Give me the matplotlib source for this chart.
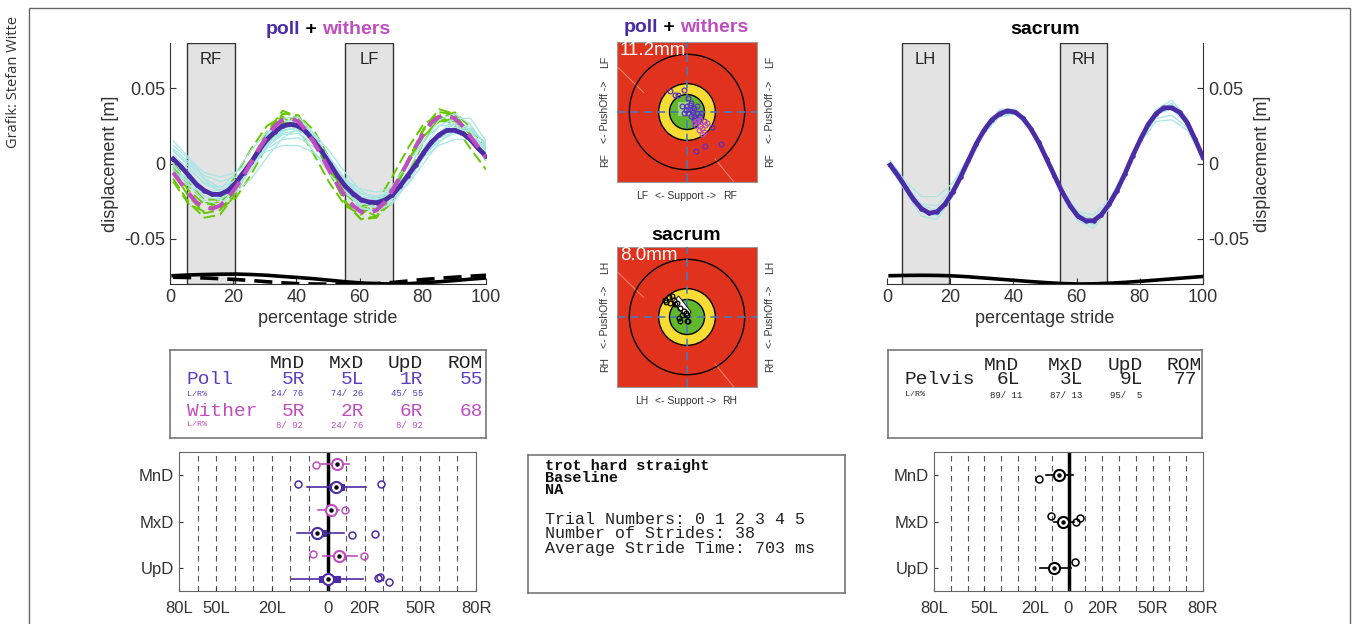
import numpy as np
import matplotlib
matplotlib.use('Agg')
import matplotlib.pyplot as plt
from matplotlib.patches import Rectangle, Circle, Polygon

W, H = 1359, 624
plt.rcParams['font.family'] = ['Liberation Sans', 'DejaVu Sans']
MONO = 'Liberation Mono'

# ---------------- data: vertical displacement curves (m) ----------------
# mean curves every 2.5 % of stride, single strides every 5 %
poll_mean = [0.003, -0.002, -0.008, -0.014, -0.018, -0.0205, -0.0205, -0.018, -0.013, -0.006,
             0.001, 0.009, 0.016, 0.021, 0.025, 0.026, 0.025, 0.021, 0.015, 0.008,
             0.000, -0.008, -0.015, -0.020, -0.024, -0.0255, -0.026, -0.0245, -0.021, -0.015,
             -0.008, -0.001, 0.007, 0.014, 0.019, 0.022, 0.022, 0.020, 0.016, 0.010, 0.005]
withers_mean = [-0.006, -0.013, -0.020, -0.026, -0.029, -0.030, -0.028, -0.023, -0.016, -0.008,
                0.001, 0.010, 0.018, 0.025, 0.029, 0.030, 0.028, 0.022, 0.014, 0.005,
                -0.005, -0.014, -0.022, -0.028, -0.032, -0.033, -0.031, -0.026, -0.018, -0.009,
                0.001, 0.011, 0.020, 0.027, 0.031, 0.032, 0.030, 0.025, 0.018, 0.011, 0.004]
sacrum_mean = [-0.001, -0.008, -0.016, -0.024, -0.030, -0.033, -0.032, -0.027, -0.019, -0.009,
               0.002, 0.013, 0.022, 0.029, 0.033, 0.035, 0.034, 0.030, 0.023, 0.014,
               0.003, -0.008, -0.019, -0.028, -0.035, -0.038, -0.038, -0.034, -0.027, -0.018,
               -0.007, 0.005, 0.016, 0.026, 0.033, 0.037, 0.037, 0.034, 0.027, 0.016, 0.004]

poll_strides = [
    [0.012, 0.003, -0.006, -0.009, -0.006, 0.002, 0.008, 0.012, 0.012, 0.007, -0.002, -0.011, -0.017, -0.019, -0.016, -0.007, 0.004, 0.012, 0.016, 0.016, 0.012],
    [0.000, -0.014, -0.025, -0.027, -0.018, 0.000, 0.019, 0.030, 0.031, 0.020, 0.002, -0.017, -0.029, -0.032, -0.026, -0.010, 0.010, 0.025, 0.030, 0.022, 0.008],
    [0.008, 0.000, -0.011, -0.019, -0.019, -0.010, 0.004, 0.017, 0.023, 0.020, 0.008, -0.006, -0.018, -0.024, -0.023, -0.014, 0.000, 0.014, 0.022, 0.022, 0.014],
    [-0.004, -0.015, -0.020, -0.017, -0.006, 0.009, 0.021, 0.026, 0.021, 0.008, -0.007, -0.020, -0.027, -0.025, -0.015, 0.000, 0.015, 0.025, 0.026, 0.016, 0.002],
    [0.006, -0.004, -0.013, -0.016, -0.011, 0.000, 0.012, 0.019, 0.020, 0.013, 0.001, -0.011, -0.020, -0.022, -0.018, -0.007, 0.006, 0.017, 0.021, 0.017, 0.009],
    [0.015, 0.004, -0.010, -0.016, -0.012, 0.000, 0.013, 0.022, 0.024, 0.017, 0.004, -0.010, -0.020, -0.023, -0.019, -0.008, 0.006, 0.020, 0.030, 0.030, 0.015],
    [-0.002, -0.011, -0.022, -0.024, -0.017, -0.002, 0.013, 0.023, 0.027, 0.019, 0.003, -0.013, -0.025, -0.030, -0.027, -0.013, 0.004, 0.020, 0.027, 0.024, 0.012],
    [0.004, -0.006, -0.017, -0.022, -0.016, -0.002, 0.013, 0.022, 0.024, 0.016, 0.000, -0.016, -0.026, -0.029, -0.024, -0.011, 0.004, 0.017, 0.024, 0.021, 0.010],
    [0.010, 0.001, -0.008, -0.012, -0.009, 0.000, 0.010, 0.016, 0.017, 0.011, 0.000, -0.012, -0.020, -0.022, -0.018, -0.008, 0.005, 0.015, 0.020, 0.018, 0.011],
    [-0.005, -0.012, -0.020, -0.021, -0.013, 0.003, 0.018, 0.028, 0.029, 0.019, 0.001, -0.018, -0.030, -0.031, -0.022, -0.005, 0.014, 0.029, 0.033, 0.026, 0.011],
    [0.002, -0.009, -0.019, -0.023, -0.018, -0.004, 0.011, 0.021, 0.025, 0.018, 0.003, -0.014, -0.024, -0.027, -0.022, -0.009, 0.007, 0.020, 0.026, 0.022, 0.008],
    [0.009, -0.002, -0.014, -0.018, -0.013, -0.001, 0.011, 0.020, 0.022, 0.015, 0.002, -0.012, -0.022, -0.024, -0.020, -0.009, 0.005, 0.018, 0.024, 0.023, 0.013],
]
withers_strides = [
    [-0.010, -0.026, -0.036, -0.034, -0.020, 0.000, 0.020, 0.033, 0.032, 0.016, -0.006, -0.026, -0.037, -0.036, -0.021, 0.000, 0.022, 0.034, 0.033, 0.019, 0.002],
    [-0.002, -0.015, -0.024, -0.024, -0.013, 0.003, 0.018, 0.027, 0.026, 0.013, -0.004, -0.019, -0.028, -0.027, -0.016, 0.002, 0.018, 0.028, 0.028, 0.016, 0.006],
    [0.000, -0.012, -0.025, -0.030, -0.023, -0.007, 0.012, 0.027, 0.032, 0.022, 0.003, -0.016, -0.030, -0.035, -0.026, -0.007, 0.014, 0.030, 0.034, 0.024, 0.010],
    [-0.012, -0.027, -0.032, -0.024, -0.008, 0.010, 0.025, 0.031, 0.023, 0.006, -0.013, -0.028, -0.034, -0.026, -0.009, 0.010, 0.026, 0.032, 0.025, 0.010, -0.004],
    [-0.006, -0.022, -0.033, -0.031, -0.018, 0.002, 0.021, 0.035, 0.031, 0.015, -0.006, -0.025, -0.037, -0.035, -0.020, 0.002, 0.023, 0.036, 0.033, 0.019, 0.002],
    [-0.004, -0.018, -0.027, -0.026, -0.015, 0.002, 0.017, 0.027, 0.027, 0.014, -0.003, -0.020, -0.029, -0.030, -0.018, 0.000, 0.018, 0.029, 0.029, 0.017, 0.006],
]
sacrum_strides = [
    [0.002, -0.012, -0.022, -0.022, -0.013, 0.004, 0.022, 0.032, 0.033, 0.022, 0.003, -0.018, -0.032, -0.034, -0.024, -0.005, 0.016, 0.030, 0.032, 0.024, 0.006],
    [-0.003, -0.019, -0.035, -0.037, -0.022, 0.000, 0.022, 0.036, 0.036, 0.024, 0.002, -0.021, -0.038, -0.043, -0.030, -0.008, 0.017, 0.036, 0.042, 0.030, 0.003],
    [0.000, -0.014, -0.028, -0.031, -0.020, 0.000, 0.020, 0.031, 0.033, 0.023, 0.004, -0.017, -0.033, -0.037, -0.027, -0.008, 0.014, 0.028, 0.029, 0.022, 0.003],
    [-0.002, -0.018, -0.032, -0.034, -0.020, 0.003, 0.024, 0.035, 0.035, 0.023, 0.002, -0.020, -0.036, -0.040, -0.028, -0.007, 0.017, 0.035, 0.040, 0.029, 0.002],
    [0.000, -0.015, -0.027, -0.028, -0.016, 0.003, 0.021, 0.032, 0.034, 0.024, 0.005, -0.017, -0.034, -0.038, -0.027, -0.006, 0.017, 0.033, 0.036, 0.026, 0.006],
    [-0.001, -0.017, -0.031, -0.035, -0.022, -0.001, 0.020, 0.033, 0.034, 0.022, 0.001, -0.021, -0.037, -0.041, -0.029, -0.009, 0.015, 0.034, 0.039, 0.028, 0.003],
]
# black traces along the bottom of the gait plots
fore_trace_solid = [-0.0745, -0.0740, -0.0737, -0.0735, -0.0734, -0.0737, -0.0742, -0.0750, -0.0757, -0.0765, -0.0775,
                    -0.0785, -0.0793, -0.0798, -0.0800, -0.0798, -0.0792, -0.0785, -0.0777, -0.0768, -0.0760]
fore_trace_dashed = [-0.0755, -0.0757, -0.0760, -0.0765, -0.0770, -0.0777, -0.0785, -0.0792, -0.0798, -0.0800, -0.0801,
                     -0.0801, -0.0800, -0.0797, -0.0790, -0.0780, -0.0770, -0.0762, -0.0755, -0.0748, -0.0742]
hind_trace = [-0.0745, -0.0743, -0.0742, -0.0743, -0.0746, -0.0752, -0.0760, -0.0768, -0.0776, -0.0784, -0.0791,
              -0.0797, -0.0800, -0.0799, -0.0795, -0.0789, -0.0782, -0.0774, -0.0766, -0.0758, -0.0750]

fore_stance = [(5.5, 20.5, 'RF'), (55.5, 70.5, 'LF')]
hind_stance = [(4.6, 19.6, 'LH'), (54.6, 69.6, 'RH')]

# ---------------- data: target plots (normalised to plot half-width) ----------------
poll_pts_x = [-0.25, -0.17, -0.13, -0.04, 0.02, 0.05, 0.10, 0.14, 0.19, 0.24, 0.07, 0.00, 0.05, 0.10, 0.02,
              -0.02, 0.12, 0.36, 0.13, 0.26, 0.49, -0.05, 0.14, -0.07, 0.04, 0.10, 0.17, 0.08, 0.12, 0.20]
poll_pts_y = [0.30, 0.25, 0.25, 0.32, 0.20, 0.13, 0.06, -0.01, -0.06, -0.13, 0.03, 0.08, -0.06, -0.11, -0.01,
              0.03, -0.18, -0.22, -0.55, -0.48, -0.46, -0.01, 0.08, 0.08, 0.10, -0.05, -0.11, 0.00, -0.08, -0.02]
withers_pts_x = [0.19, 0.24, 0.17, 0.26, 0.14, 0.21, 0.29, 0.10, 0.19, 0.22]
withers_pts_y = [-0.20, -0.28, -0.25, -0.18, -0.13, -0.32, -0.16, -0.16, -0.11, -0.23]
sacrum_pts_x = [-0.31, -0.26, -0.21, -0.24, -0.30, -0.19, -0.14, -0.10, -0.05, 0.00, -0.12, -0.10, 0.00, 0.02,
                -0.17, -0.07, -0.02]
sacrum_pts_y = [0.25, 0.28, 0.30, 0.20, 0.21, 0.25, 0.20, 0.13, 0.08, 0.03, -0.01, -0.05, -0.05, -0.06,
                0.18, 0.03, 0.06]
sacrum_box = [(-0.20, 0.22), (-0.12, 0.30), (0.06, 0.07), (-0.02, -0.01)]
poll_scale = '11.2mm'
sacrum_scale = '8.0mm'

# ---------------- data: tables ----------------
table_cols = ['MnD', 'MxD', 'UpD', 'ROM']
poll_vals = ['5R', '5L', '1R', '55']
poll_lr = ['24/ 76', '74/ 26', '45/ 55']
wither_vals = ['5R', '2R', '6R', '68']
wither_lr = ['8/ 92', '24/ 76', '8/ 92']
pelvis_vals = ['6L', '3L', '9L', '77']
pelvis_lr = ['89/ 11', '87/ 13', '95/  5']
info_bold = ['trot hard straight', 'Baseline', 'NA']
info_lines = ['Trial Numbers: 0 1 2 3 4 5', 'Number of Strides: 38', 'Average Stride Time: 703 ms']

# ---------------- data: asymmetry summaries (% L/R), rows MnD, MxD, UpD ----------------
asym_labels = ['MnD', 'MxD', 'UpD']
poll_asym_mean = [4.5, -5.4, 0.5]
poll_asym_q1 = [0.9, -6.3, -4.5]
poll_asym_q3 = [9.0, -0.9, 6.7]
poll_asym_lo = [-11.2, -16.2, -19.3]
poll_asym_hi = [21.0, 9.0, 19.3]
poll_asym_out = [[-15.7, 29.0], [13.2, 25.4], [27.0, 28.5, 33.0]]
poll_asym_out_dy = [[0.05, 0.05], [-0.05, -0.02], [0.04, 0.06, -0.05]]
withers_asym_mean = [5.0, 1.8, 6.3]
withers_asym_q1 = [4.0, 1.0, 5.4]
withers_asym_q3 = [6.0, 2.5, 9.5]
withers_asym_lo = [-3.6, -4.9, -2.3]
withers_asym_hi = [11.4, 6.3, 15.7]
withers_asym_out = [[-6.0], [9.5], [-7.6, 19.6]]
withers_asym_out_dy = [[-0.04], [0.0], [0.04, 0.0]]
pelvis_asym_mean = [-5.9, -3.0, -8.9]
pelvis_asym_q1 = [-7.0, -4.0, -10.0]
pelvis_asym_q3 = [-4.5, -2.0, -7.5]
pelvis_asym_lo = [-13.3, -8.7, -17.2]
pelvis_asym_hi = [2.6, 3.0, 1.6]
pelvis_asym_out = [[-17.6], [-10.3, 4.6, 6.7], [3.6]]
pelvis_asym_out_dy = [[-0.09], [0.11, -0.01, 0.07], [0.12]]
left_xticks = [-80, -60, -30, 0, 20, 50, 80]
right_xticks = [-80, -50, -20, 0, 20, 50, 80]
xtick_labels = ['80L', '50L', '20L', '0', '20R', '50R', '80R']

# ---------------- colours ----------------
PURPLE = '#4b2ba6'
POLL_TXT = '#5a3fc0'
MAGENTA = '#c04ec0'
CYAN = '#a8e6e6'
GREEN = '#66c800'
RED = '#e0321c'
YELLOW = '#f8dc34'
TGREEN = '#62b82c'
BLUE = '#4a7ab8'
GREY_TXT = '#333333'

fig = plt.figure(figsize=(W / 100, H / 100), dpi=100)
renderer = fig.canvas.get_renderer()


def px(x, y):
    return x / W, 1 - y / H


def axes_px(x0, y0, x1, y1):
    return fig.add_axes([x0 / W, 1 - y1 / H, (x1 - x0) / W, (y1 - y0) / H])


def ftext(x, y, s, **kw):
    return fig.text(*px(x, y), s, **kw)


def multi_title(xc, yc, parts, size=14):
    texts, widths = [], []
    for s, c in parts:
        t = fig.text(0, 0, s, color=c, fontsize=size, fontweight='bold', va='center', ha='left')
        texts.append(t)
        widths.append(t.get_window_extent(renderer).width)
    x = xc - sum(widths) / 2
    for t, w in zip(texts, widths):
        t.set_position(px(x, yc))
        x += w


def gait_axes(ax, stance, right=False):
    for a, b, lab in stance:
        ax.add_patch(Rectangle((a, -0.08), b - a, 0.16, fc='#e3e3e3', ec='#333333', lw=1, zorder=0))
        ax.text((a + b) / 2, 0.069, lab, ha='center', va='center', fontsize=12, color='#222222')
    ax.set_xlim(0, 100)
    ax.set_ylim(-0.08, 0.08)
    ax.set_xticks(range(0, 101, 20))
    ax.set_yticks([-0.05, 0, 0.05])
    ax.set_yticklabels(['-0.05', '0', '0.05'])
    ax.tick_params(direction='in', length=4, labelsize=13, colors=GREY_TXT)
    ax.set_xlabel('percentage stride', fontsize=13, color=GREY_TXT, labelpad=3)
    ax.set_ylabel('displacement [m]', fontsize=13, color=GREY_TXT)
    ax.spines['top'].set_visible(False)
    if right:
        ax.spines['left'].set_visible(False)
        ax.yaxis.tick_right()
        ax.yaxis.set_label_position('right')
    else:
        ax.spines['right'].set_visible(False)
    for s in ax.spines.values():
        s.set_color('#333333')


def curves(ax, rows, **kw):
    for r in rows:
        ax.plot(np.linspace(1, 100, len(r)), r, **kw)


# ---------------- top gait plots ----------------
ax1 = axes_px(170, 43, 486, 284)
gait_axes(ax1, fore_stance)
curves(ax1, withers_strides, color=GREEN, lw=1.4, ls=(0, (6, 2.5)), zorder=2)
curves(ax1, poll_strides, color=CYAN, lw=0.9, zorder=3)
curves(ax1, [fore_trace_solid], color='k', lw=2.6, zorder=4)
curves(ax1, [fore_trace_dashed], color='k', lw=2.6, ls=(0, (5, 2.5)), zorder=4)
curves(ax1, [poll_mean], color=PURPLE, lw=3.4, marker='.', ms=4.5, zorder=5)
curves(ax1, [withers_mean], color=MAGENTA, lw=3, ls=(0, (4, 2.2)), zorder=6)
multi_title(328, 29, [('poll', PURPLE), (' + ', 'k'), ('withers', MAGENTA)])

ax2 = axes_px(887, 43, 1203, 284)
gait_axes(ax2, hind_stance, right=True)
curves(ax2, sacrum_strides, color=CYAN, lw=0.9, zorder=3)
curves(ax2, [hind_trace], color='k', lw=2.6, zorder=4)
curves(ax2, [sacrum_mean], color=PURPLE, lw=3.4, marker='.', ms=4.5, zorder=5)
multi_title(1045, 30, [('sacrum', 'k')])


# ---------------- targets ----------------
def target(ax, sets, scale, box=None, light=None):
    ax.set_facecolor(RED)
    ax.set_xlim(-1, 1)
    ax.set_ylim(-1, 1)
    # faint construction line, visible in the corners only
    ax.plot([-1, -0.62], [0.65, 0.28], color='#ee8a72', lw=0.7, zorder=1)
    ax.plot([0.40, 0.67], [-0.67, -1], color='#ee8a72', lw=0.7, zorder=1)
    ax.add_patch(Circle((0, 0), 0.824, fill=False, ec='k', lw=1, zorder=2))
    ax.add_patch(Circle((0, 0), 0.405, fc=YELLOW, ec='k', lw=1, zorder=2))
    ax.add_patch(Circle((0, 0), 0.25, fc=TGREEN, ec='k', lw=1, zorder=3))
    if light is not None:
        ax.add_patch(Rectangle(light[0], light[1], light[2], fc='#9fd67a', ec='none', zorder=3))
    ax.axhline(0, color=BLUE, lw=1.2, ls=(0, (5, 3)), zorder=4)
    ax.axvline(0, color=BLUE, lw=1.2, ls=(0, (5, 3)), zorder=4)
    if box is not None:
        ax.add_patch(Polygon(box, closed=True, fc='white', ec='k', lw=0.6, zorder=5))
    for xs, ys, c in sets:
        ax.plot(xs, ys, 'o', mfc='none', mec=c, ms=3.4, mew=0.9, zorder=6)
    ax.text(0.02, 1.0, scale, transform=ax.transAxes, color='white', fontsize=13.5,
            ha='left', va='top', zorder=7)
    ax.set_xticks([])
    ax.set_yticks([])
    for s in ax.spines.values():
        s.set_color('#999999')
        s.set_linewidth(0.8)


def target_labels(yc, a, b):
    for xx in (605, 770):
        ftext(xx, yc + 48, a, rotation=90, ha='center', va='center', fontsize=7.5, color=GREY_TXT)
        ftext(xx, yc, '<- PushOff ->', rotation=90, ha='center', va='center', fontsize=7.5, color=GREY_TXT)
        ftext(xx, yc - 50, b, rotation=90, ha='center', va='center', fontsize=7.5, color=GREY_TXT)
    ftext(642, yc + 84, b, ha='center', va='center', fontsize=7.5, color=GREY_TXT)
    ftext(686, yc + 84, '<- Support ->', ha='center', va='center', fontsize=7.5, color=GREY_TXT)
    ftext(730, yc + 84, a, ha='center', va='center', fontsize=7.5, color=GREY_TXT)


t1 = axes_px(617, 42, 757, 182)
target(t1, [(poll_pts_x, poll_pts_y, '#5a30c8'), (withers_pts_x, withers_pts_y, MAGENTA)], poll_scale,
       light=((-0.13, -0.06), 0.18, 0.2))
multi_title(686, 28, [('poll', PURPLE), (' + ', 'k'), ('withers', MAGENTA)])
target_labels(112, 'RF', 'LF')

t2 = axes_px(617, 247, 757, 387)
target(t2, [(sacrum_pts_x, sacrum_pts_y, 'k')], sacrum_scale, box=sacrum_box)
multi_title(686, 235, [('sacrum', 'k')])
target_labels(317, 'RH', 'LH')


# ---------------- tables ----------------
def box_axes(x0, y0, x1, y1):
    ax = axes_px(x0, y0, x1, y1)
    ax.set_xticks([])
    ax.set_yticks([])
    for s in ax.spines.values():
        s.set_color('#777777')
        s.set_linewidth(1.2)
    return ax


box_axes(170, 350, 486, 438)
for col, xe in zip(table_cols, [305, 364, 423, 483]):
    ftext(xe, 363, col, ha='right', va='center', family=MONO, fontsize=14, color='#222222')
for name, vals, lr, c, y in [('Poll', poll_vals, poll_lr, POLL_TXT, 380),
                             ('Wither', wither_vals, wither_lr, MAGENTA, 411)]:
    ftext(187, y, name, ha='left', va='center', family=MONO, fontsize=14, color=c)
    for v, xe in zip(vals, [305, 364, 423, 483]):
        ftext(xe, y, v, ha='right', va='center', family=MONO, fontsize=14, color=c)
    ftext(187, y + 14, 'L/R%', ha='left', va='center', family=MONO, fontsize=6, color=c)
    for v, xe in zip(lr, [303, 363, 423]):
        ftext(xe, y + 14, v, ha='right', va='center', family=MONO, fontsize=6.5, color=c)

box_axes(888, 350, 1202, 438)
for col, xe in zip(table_cols, [1019, 1083, 1143, 1202]):
    ftext(xe, 365, col, ha='right', va='center', family=MONO, fontsize=14, color='#222222')
ftext(905, 380, 'Pelvis', ha='left', va='center', family=MONO, fontsize=14, color='#222222')
for v, xe in zip(pelvis_vals, [1020, 1083, 1143, 1197]):
    ftext(xe, 380, v, ha='right', va='center', family=MONO, fontsize=14, color='#222222')
ftext(905, 395, 'L/R%', ha='left', va='center', family=MONO, fontsize=6, color='#222222')
for v, xe in zip(pelvis_lr, [1022, 1082, 1142]):
    ftext(xe, 395, v, ha='right', va='center', family=MONO, fontsize=6.5, color='#222222')

box_axes(528, 455, 845, 593)
for i, s in enumerate(info_bold):
    ftext(545, 466 + 12 * i, s, ha='left', va='center', family=MONO, fontsize=11,
          fontweight='bold', color='#111111')
for i, s in enumerate(info_lines):
    ftext(545, 519 + 15 * i, s, ha='left', va='center', family=MONO, fontsize=12, color='#222222')


# ---------------- asymmetry plots ----------------
def asym_axes(ax, ticks):
    ax.set_xlim(-80, 80)
    ax.set_ylim(0.5, 3.5)
    for g in range(-70, 80, 10):
        if g != 0:
            ax.axvline(g, color='#555555', lw=0.8, ls=(0, (5, 4)), zorder=0)
    ax.axvline(0, color='k', lw=2.5, zorder=1)
    ax.set_yticks([3, 2, 1])
    ax.set_yticklabels(asym_labels)
    ax.set_xticks(ticks)
    ax.set_xticklabels(xtick_labels)
    ax.tick_params(direction='in', length=3, labelsize=12, colors=GREY_TXT)
    ax.tick_params(axis='x', pad=7)
    for s in ax.spines.values():
        s.set_color('#666666')


def asym_series(ax, dy, mean, q1, q3, lo, hi, out, out_dy, color):
    for i, y0 in enumerate([3, 2, 1]):
        y = y0 + dy
        ax.plot([lo[i], hi[i]], [y, y], color=color, lw=1.2, zorder=2)
        ax.add_patch(Rectangle((q1[i], y - 0.065), q3[i] - q1[i], 0.13, fc=color, ec=color,
                               lw=0.8, zorder=2))
        ax.plot(out[i], [y + d for d in out_dy[i]], 'o', mfc='none', mec=color, ms=5, mew=1.1, zorder=3)
        ax.plot(mean[i], y, 'o', mfc='white', mec=color, ms=8, mew=1.5, zorder=4)
        ax.plot(mean[i], y, 'o', color='k', ms=2.2, zorder=5)


a1 = axes_px(179, 452, 476, 591)
asym_axes(a1, left_xticks)
asym_series(a1, 0.25, withers_asym_mean, withers_asym_q1, withers_asym_q3, withers_asym_lo,
            withers_asym_hi, withers_asym_out, withers_asym_out_dy, MAGENTA)
asym_series(a1, -0.25, poll_asym_mean, poll_asym_q1, poll_asym_q3, poll_asym_lo,
            poll_asym_hi, poll_asym_out, poll_asym_out_dy, PURPLE)

a2 = axes_px(934, 452, 1203, 591)
asym_axes(a2, right_xticks)
asym_series(a2, 0.0, pelvis_asym_mean, pelvis_asym_q1, pelvis_asym_q3, pelvis_asym_lo,
            pelvis_asym_hi, pelvis_asym_out, pelvis_asym_out_dy, 'k')

# ---------------- frame and credit ----------------
fig.patches.append(Rectangle((29 / W, -0.02), (1350 - 29) / W, 1 - 8 / H + 0.02,
                             transform=fig.transFigure, fill=False, ec='#666666', lw=1))
ftext(14, 82, 'Grafik: Stefan Witte', rotation=90, ha='center', va='center',
      family=['Open Sans', 'DejaVu Sans'], fontsize=10.5, color='#333333')

fig.savefig('out.png', dpi=100)
